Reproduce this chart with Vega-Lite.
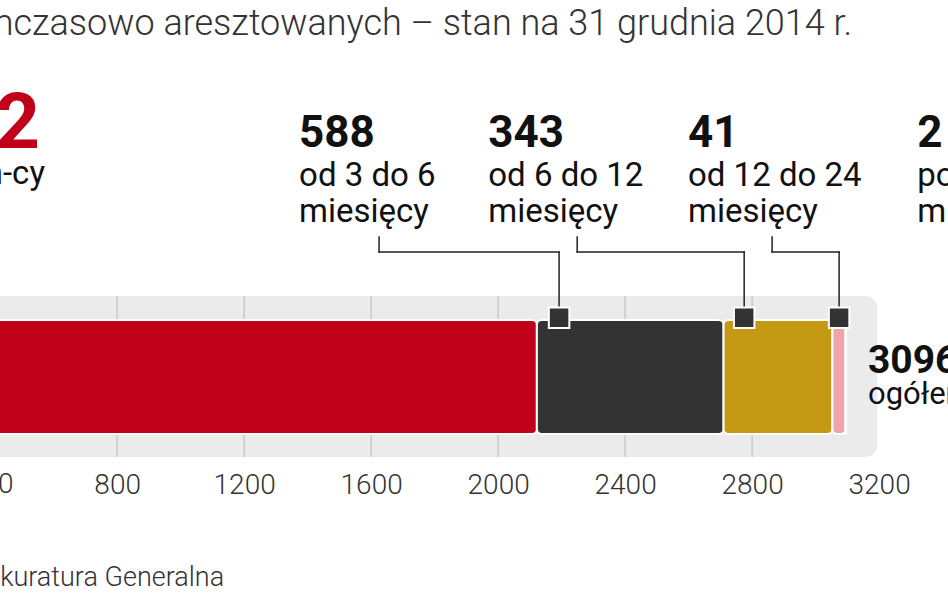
{
  "$schema": "https://vega.github.io/schema/vega-lite/v6.json",
  "width": 948,
  "height": 593,
  "padding": 0,
  "autosize": {"type": "none"},
  "background": "white",
  "config": {"view": {"stroke": null}},
  "data": {"values": [{}]},
  "datasets": {
    "segments": [
      {"group": "do 3 m-cy", "value": 2122, "order": 1},
      {"group": "od 3 do 6 miesięcy", "value": 588, "order": 2},
      {"group": "od 6 do 12 miesięcy", "value": 343, "order": 3},
      {"group": "od 12 do 24 miesięcy", "value": 41, "order": 4},
      {"group": "powyżej 24 miesięcy", "value": 2, "order": 5}
    ],
    "grid": [{"x": 400}, {"x": 800}, {"x": 1200}, {"x": 1600}, {"x": 2000}, {"x": 2400}, {"x": 2800}],
    "connectors": [
      {"from": 1625, "to": 2192},
      {"from": 2249, "to": 2775},
      {"from": 2863, "to": 3074}
    ],
    "labels": [
      {"x": 1373, "num": "588", "l1": "od 3 do 6", "l2": "miesięcy"},
      {"x": 1969, "num": "343", "l1": "od 6 do 12", "l2": "miesięcy"},
      {"x": 2598, "num": "41", "l1": "od 12 do 24", "l2": "miesięcy"},
      {"x": 3320, "num": "2", "l1": "powyżej 24", "l2": "miesięcy"}
    ],
    "first": [{"x": 557, "num": "2122", "l1": "do 3 m-cy"}],
    "total": [{"x": 3165, "num": "3096", "l1": "ogółem"}]
  },
  "layer": [
    {
      "mark": {"type": "rect", "fill": "#ebebeb", "cornerRadius": 12},
      "encoding": {
        "x": {"datum": 200, "type": "quantitative", "scale": {"domain": [431, 3417], "nice": false, "zero": false},
          "axis": {"values": [800, 1200, 1600, 2000, 2400, 2800, 3200], "title": null, "grid": false, "domain": false, "ticks": false, "tickSize": 0, "labelFlush": false, "labelOverlap": false, "offset": -130, "labelPadding": 8, "labelFont": "Roboto", "labelFontWeight": 300, "labelFontSize": 28, "labelColor": "#333333", "format": "d"}},
        "x2": {"datum": 3194},
        "y": {"datum": -0.202, "type": "quantitative", "scale": {"domain": [-1.395, 3.807], "nice": false, "zero": false}, "axis": null},
        "y2": {"datum": 1.211}
      }
    },
    {
      "data": {"name": "grid"},
      "mark": {"type": "rule", "color": "#c9c9c9", "strokeWidth": 1.5},
      "encoding": {
        "x": {"field": "x", "type": "quantitative"},
        "y": {"datum": -0.202},
        "y2": {"datum": 1.211}
      }
    },
    {
      "data": {"name": "segments"},
      "transform": [{"stack": "value", "groupby": [], "sort": [{"field": "order"}], "as": ["x0", "x1"]}],
      "mark": {"type": "bar", "stroke": "white", "strokeWidth": 2, "cornerRadius": 5},
      "encoding": {
        "x": {"field": "x0", "type": "quantitative"},
        "x2": {"field": "x1"},
        "y": {"datum": 0},
        "y2": {"datum": 1},
        "color": {"field": "group", "type": "nominal", "legend": null,
          "scale": {"domain": ["do 3 m-cy", "od 3 do 6 miesięcy", "od 6 do 12 miesięcy", "od 12 do 24 miesięcy", "powyżej 24 miesięcy"],
                    "range": ["#c00019", "#333333", "#c49a14", "#f0a3a8", "#7a7a7a"]}}
      }
    },
    {
      "data": {"name": "connectors"},
      "mark": {"type": "rule", "color": "#222222", "strokeWidth": 1.5, "strokeCap": "square"},
      "encoding": {
        "x": {"field": "from", "type": "quantitative"},
        "y": {"datum": 1.596},
        "y2": {"datum": 1.728}
      }
    },
    {
      "data": {"name": "connectors"},
      "mark": {"type": "rule", "color": "#222222", "strokeWidth": 1.5, "strokeCap": "square"},
      "encoding": {
        "x": {"field": "from", "type": "quantitative"},
        "x2": {"field": "to"},
        "y": {"datum": 1.596}
      }
    },
    {
      "data": {"name": "connectors"},
      "mark": {"type": "rule", "color": "#222222", "strokeWidth": 1.5, "strokeCap": "square"},
      "encoding": {
        "x": {"field": "to", "type": "quantitative"},
        "y": {"datum": 1.02},
        "y2": {"datum": 1.596}
      }
    },
    {
      "data": {"name": "connectors"},
      "mark": {"type": "point", "shape": "square", "filled": true, "fill": "#333333", "stroke": "white", "strokeWidth": 2, "size": 420, "opacity": 1},
      "encoding": {
        "x": {"field": "to", "type": "quantitative"},
        "y": {"datum": 1.02}
      }
    },
    {
      "data": {"name": "labels"},
      "mark": {"type": "text", "align": "left", "baseline": "alphabetic", "font": "Roboto", "fontWeight": 700, "fontSize": 44, "color": "#111111"},
      "encoding": {
        "x": {"field": "x", "type": "quantitative"},
        "y": {"datum": 2.518},
        "text": {"field": "num"}
      }
    },
    {
      "data": {"name": "labels"},
      "mark": {"type": "text", "align": "left", "baseline": "alphabetic", "font": "Roboto", "fontWeight": 400, "fontSize": 33, "color": "#111111"},
      "encoding": {
        "x": {"field": "x", "type": "quantitative"},
        "y": {"datum": 2.175},
        "text": {"field": "l1"}
      }
    },
    {
      "data": {"name": "labels"},
      "mark": {"type": "text", "align": "left", "baseline": "alphabetic", "font": "Roboto", "fontWeight": 400, "fontSize": 33, "color": "#111111"},
      "encoding": {
        "x": {"field": "x", "type": "quantitative"},
        "y": {"datum": 1.86},
        "text": {"field": "l2"}
      }
    },
    {
      "data": {"name": "first"},
      "mark": {"type": "text", "align": "right", "baseline": "alphabetic", "font": "Roboto", "fontWeight": 700, "fontSize": 78, "color": "#c00019"},
      "encoding": {
        "x": {"field": "x", "type": "quantitative"},
        "y": {"datum": 2.509},
        "text": {"field": "num"}
      }
    },
    {
      "data": {"name": "first"},
      "mark": {"type": "text", "align": "right", "baseline": "alphabetic", "font": "Roboto", "fontWeight": 400, "fontSize": 33, "color": "#111111", "dx": 5},
      "encoding": {
        "x": {"field": "x", "type": "quantitative"},
        "y": {"datum": 2.19},
        "text": {"field": "l1"}
      }
    },
    {
      "data": {"name": "total"},
      "mark": {"type": "text", "align": "left", "baseline": "alphabetic", "font": "Roboto", "fontWeight": 700, "fontSize": 39, "color": "#111111"},
      "encoding": {
        "x": {"field": "x", "type": "quantitative"},
        "y": {"datum": 0.535},
        "text": {"field": "num"}
      }
    },
    {
      "data": {"name": "total"},
      "mark": {"type": "text", "align": "left", "baseline": "alphabetic", "font": "Roboto", "fontWeight": 400, "fontSize": 31, "color": "#111111"},
      "encoding": {
        "x": {"field": "x", "type": "quantitative"},
        "y": {"datum": 0.262},
        "text": {"field": "l1"}
      }
    },
    {
      "mark": {"type": "text", "align": "center", "baseline": "alphabetic", "font": "Roboto", "fontWeight": 300, "fontSize": 28, "color": "#333333"},
      "encoding": {
        "x": {"datum": 400},
        "y": {"datum": -0.518},
        "text": {"value": "400"}
      }
    },
    {
      "mark": {"type": "text", "align": "right", "baseline": "alphabetic", "font": "Roboto", "fontWeight": 300, "fontSize": 36, "color": "#333333"},
      "encoding": {
        "x": {"datum": 3115},
        "y": {"datum": 3.5},
        "text": {"value": "Liczba tymczasowo aresztowanych – stan na 31 grudnia 2014 r."}
      }
    },
    {
      "mark": {"type": "text", "align": "right", "baseline": "alphabetic", "font": "Roboto", "fontWeight": 300, "fontSize": 27, "color": "#333333"},
      "encoding": {
        "x": {"datum": 1137},
        "y": {"datum": -1.333},
        "text": {"value": "Źródło: Prokuratura Generalna"}
      }
    }
  ]
}
